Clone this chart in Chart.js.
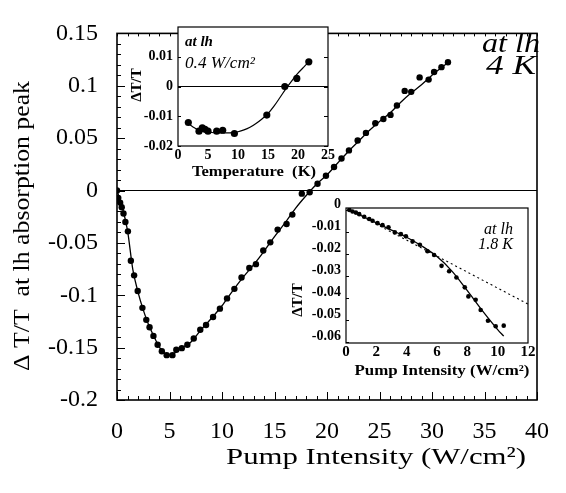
<!DOCTYPE html>
<html><head><meta charset="utf-8">
<script src="https://cdn.jsdelivr.net/npm/chart.js@4.4.1/dist/chart.umd.min.js"></script>
<style>
html,body{margin:0;padding:0;background:#fff;}
#wrap{position:relative;width:566px;height:493px;}
#wrap canvas{position:absolute;left:0;top:0;}
</style></head><body>
<div id="wrap">
<canvas id="mainChart" width="566" height="493"></canvas>
<canvas id="tempChart" width="566" height="493"></canvas>
<canvas id="pumpChart" width="566" height="493"></canvas>
</div>
<script>
// ---------- Main panel: ΔT/T vs pump intensity at 4 K ----------
const mainX = [0, 0.12, 0.3, 0.45, 0.62, 0.8, 1.04, 1.32, 1.63, 1.97, 2.42, 2.79, 3.1, 3.47, 3.87, 4.27, 4.73, 5.28, 5.65, 6.17, 6.7, 7.31, 7.93, 8.48, 9.15, 9.8, 10.48, 11.18, 11.86, 12.6, 13.23, 13.93, 14.6, 15.3, 16.15, 16.7, 17.6, 18.35, 19.1, 19.9, 20.67, 21.38, 22.09, 22.92, 23.71, 24.6, 25.37, 26.05, 26.66, 27.4, 28.02, 28.82, 29.68, 30.2, 30.9, 31.52];
const mainY = [0, -0.007, -0.0116, -0.016, -0.022, -0.030, -0.039, -0.067, -0.081, -0.096, -0.112, -0.1235, -0.1306, -0.1388, -0.1473, -0.1535, -0.1572, -0.1572, -0.152, -0.1505, -0.1473, -0.1413, -0.133, -0.1284, -0.1208, -0.1128, -0.103, -0.0939, -0.0831, -0.074, -0.0703, -0.0572, -0.0495, -0.0373, -0.032, -0.023, -0.003, -0.0017, 0.0064, 0.0141, 0.0224, 0.0306, 0.0383, 0.0477, 0.055, 0.0642, 0.0683, 0.0722, 0.0811, 0.0951, 0.0942, 0.108, 0.1059, 0.1132, 0.1178, 0.1224];
const mainFitX = [0, 0.5, 1, 1.5, 2, 2.5, 3, 3.5, 4, 4.5, 5, 5.5, 6, 7, 8, 9, 10, 11, 12, 13, 14, 15, 16, 17, 18, 19, 20, 21, 22, 23, 24, 25, 26, 27, 28, 29, 30, 31.5];
const mainFitY = [0, -0.016, -0.038, -0.075, -0.097, -0.114, -0.128, -0.139, -0.149, -0.155, -0.157, -0.155, -0.151, -0.145, -0.133, -0.122, -0.110, -0.096, -0.083, -0.071, -0.058, -0.044, -0.031, -0.017, -0.005, 0.006, 0.015, 0.026, 0.037, 0.047, 0.057, 0.066, 0.074, 0.084, 0.093, 0.101, 0.110, 0.122];
const mainXTicks = [0, 5, 10, 15, 20, 25, 30, 35, 40];
const mainXLabels = ["0", "5", "10", "15", "20", "25", "30", "35", "40"];
const mainYTicks = [-0.2, -0.15, -0.1, -0.05, 0, 0.05, 0.1, 0.15];
const mainYLabels = ["-0.2", "-0.15", "-0.1", "-0.05", "0", "0.05", "0.1", "0.15"];

// ---------- Upper inset: ΔT/T vs temperature at 0.4 W/cm² ----------
const tempX = [1.72, 3.5, 4.05, 4.5, 5.0, 6.45, 7.45, 9.4, 14.8, 17.8, 19.8, 21.8];
const tempY = [-0.0121, -0.0150, -0.0139, -0.0144, -0.0150, -0.0150, -0.0147, -0.0158, -0.0096, 0.0, 0.0027, 0.0083];
const tempFitX = [1.5, 2.5, 3.5, 5, 7, 9, 10, 11, 12, 13, 14, 15, 16, 17, 18, 19, 20, 21, 21.8];
const tempFitY = [-0.0121, -0.0136, -0.0146, -0.0153, -0.0156, -0.0155, -0.0152, -0.0146, -0.0137, -0.0124, -0.0109, -0.0091, -0.0066, -0.0037, -0.0007, 0.0020, 0.0045, 0.0066, 0.0082];
const tempXTicks = [0, 5, 10, 15, 20, 25];
const tempXLabels = ["0", "5", "10", "15", "20", "25"];
const tempYTicks = [-0.02, -0.01, 0, 0.01];
const tempYLabels = ["-0.02", "-0.01", "0", "0.01"];

// ---------- Lower inset: ΔT/T vs pump intensity at 1.8 K ----------
const pumpX = [0.22, 0.43, 0.65, 0.87, 1.2, 1.53, 1.75, 2.08, 2.41, 2.8, 3.22, 3.62, 3.95, 4.39, 4.87, 5.37, 5.81, 6.3, 6.8, 7.28, 7.83, 8.07, 8.55, 8.88, 9.36, 9.87, 10.4];
const pumpY = [-0.0001, -0.0008, -0.0013, -0.0020, -0.0032, -0.0042, -0.0050, -0.0061, -0.0070, -0.0080, -0.0103, -0.0111, -0.0121, -0.0144, -0.0159, -0.0189, -0.0206, -0.0255, -0.0280, -0.0308, -0.0353, -0.0394, -0.0409, -0.0456, -0.0505, -0.0530, -0.0527];
const pumpFitX = [0.2, 1, 2, 3, 4, 5, 6, 7, 8, 9, 10, 10.4];
const pumpFitY = [0, -0.0027, -0.0060, -0.0093, -0.0125, -0.0165, -0.0213, -0.0280, -0.0368, -0.0460, -0.0545, -0.0575];
const pumpLinX = [0.2, 12];
const pumpLinY = [0, -0.0429];
const pumpXTicks = [0, 2, 4, 6, 8, 10, 12];
const pumpXLabels = ["0", "2", "4", "6", "8", "10", "12"];
const pumpYTicks = [-0.06, -0.05, -0.04, -0.03, -0.02, -0.01, 0];
const pumpYLabels = ["-0.06", "-0.05", "-0.04", "-0.03", "-0.02", "-0.01", "0"];

// ---------- helpers ----------
const SERIF = '"Liberation Serif", "Times New Roman", serif';
const pts = (xs, ys) => xs.map((x, i) => ({x: x, y: ys[i]}));

function makeScale(o) {
  return {
    type: 'linear', min: o.min, max: o.max,
    grid: {display: false, drawTicks: false},
    border: {display: false},
    afterBuildTicks: s => { s.ticks = o.ticks.map(v => ({value: v})); },
    afterFit: s => { if (o.isY) s.width = o.size; else s.height = o.size; },
    ticks: {
      autoSkip: false, maxRotation: 0, minRotation: 0,
      color: '#000', padding: o.pad, labelOffset: o.labelOffset || 0,
      font: {family: SERIF, size: o.font, weight: o.weight || 'normal'},
      callback: (v, i) => o.labels[i]
    }
  };
}

function drawText(ctx, t) {
  ctx.save();
  ctx.font = t.font;
  ctx.fillStyle = '#000';
  ctx.textAlign = t.align || 'center';
  ctx.textBaseline = 'middle';
  ctx.translate(t.x, t.y);
  if (t.rot) ctx.rotate(t.rot);
  let sx = 1;
  if (t.width) sx = t.width / ctx.measureText(t.text).width;
  ctx.scale(sx, 1);
  ctx.fillText(t.text, 0, 0);
  ctx.restore();
}

function framePlugin(cfg) {
  return {
    id: 'frame',
    beforeDraw(chart) {
      if (!cfg.fill) return;
      const a = chart.chartArea, ctx = chart.ctx;
      ctx.save(); ctx.fillStyle = '#fff';
      ctx.fillRect(a.left, a.top, a.right - a.left, a.bottom - a.top);
      ctx.restore();
    },
    afterDraw(chart) {
      const a = chart.chartArea, ctx = chart.ctx, sc = chart.scales;
      ctx.save();
      ctx.strokeStyle = '#000';
      ctx.lineWidth = 1;
      ctx.beginPath();
      (cfg.ticks || []).forEach(t => {
        const s = sc[t.axis];
        t.values.forEach(v => {
          const p = Math.round(s.getPixelForValue(v)) + 0.5;
          if (t.side === 'bottom') { ctx.moveTo(p, a.bottom); ctx.lineTo(p, a.bottom - t.len); }
          if (t.side === 'top') { ctx.moveTo(p, a.top); ctx.lineTo(p, a.top + t.len); }
          if (t.side === 'left') { ctx.moveTo(a.left, p); ctx.lineTo(a.left + t.len, p); }
          if (t.side === 'right') { ctx.moveTo(a.right, p); ctx.lineTo(a.right - t.len, p); }
        });
      });
      ctx.stroke();
      ctx.lineWidth = cfg.boxWidth;
      ctx.strokeRect(a.left, a.top, a.right - a.left, a.bottom - a.top);
      ctx.restore();
      (cfg.texts || []).forEach(t => drawText(ctx, t));
    }
  };
}

function range(a, b, step) { const r = []; for (let k = 0; a + k * step <= b + 1e-9; k++) r.push(+(a + k * step).toFixed(4)); return r; }

const common = {
  responsive: false, animation: false, devicePixelRatio: 1,
  plugins: {legend: {display: false}, tooltip: {enabled: false}}
};

// ---------- main chart ----------
new Chart(document.getElementById('mainChart'), {
  type: 'scatter',
  data: {datasets: [
    {data: pts([0, 40], [0, 0]), showLine: true, borderColor: '#000', borderWidth: 1.2, pointRadius: 0},
    {data: pts(mainFitX, mainFitY), showLine: true, borderColor: '#000', borderWidth: 1.3, pointRadius: 0, cubicInterpolationMode: 'monotone'},
    {data: pts(mainX, mainY), showLine: false, pointRadius: 3.2, pointBackgroundColor: '#000', pointBorderWidth: 0}
  ]},
  options: Object.assign({}, common, {
    layout: {padding: {left: 0, top: 20, right: 15, bottom: 0}},
    scales: {
      x: makeScale({min: 0, max: 40, ticks: mainXTicks, labels: mainXLabels, font: 24, pad: 17, size: 93}),
      y: makeScale({min: -0.2, max: 0.15, ticks: mainYTicks, labels: mainYLabels, font: 24, pad: 19, size: 117, isY: true})
    }
  }),
  plugins: [framePlugin({
    boxWidth: 1.6,
    ticks: [
      {axis: 'x', side: 'bottom', values: range(0, 40, 1), len: 4},
      {axis: 'x', side: 'bottom', values: mainXTicks, len: 8},
      {axis: 'x', side: 'top', values: range(0, 40, 1), len: 3},
      {axis: 'y', side: 'left', values: range(-0.2, 0.15, 0.01), len: 4},
      {axis: 'y', side: 'left', values: mainYTicks, len: 8}
    ],
    texts: [
      {text: 'Δ T/T  at lh absorption peak', x: 23, y: 226, rot: -Math.PI / 2, font: '24px ' + SERIF, width: 290},
      {text: 'Pump Intensity (W/cm²)', x: 376, y: 458, font: '24px ' + SERIF, width: 300},
      {text: 'at lh', x: 540, y: 45, align: 'right', font: 'italic 28px ' + SERIF, width: 58},
      {text: '4 K', x: 536, y: 67, align: 'right', font: 'italic 28px ' + SERIF, width: 50}
    ]
  })]
});

// ---------- temperature inset ----------
new Chart(document.getElementById('tempChart'), {
  type: 'scatter',
  data: {datasets: [
    {data: pts([0, 25], [0, 0]), showLine: true, borderColor: '#000', borderWidth: 1, pointRadius: 0},
    {data: pts(tempFitX, tempFitY), showLine: true, borderColor: '#000', borderWidth: 1.2, pointRadius: 0, cubicInterpolationMode: 'monotone'},
    {data: pts(tempX, tempY), showLine: false, pointRadius: 3.6, pointBackgroundColor: '#000', pointBorderWidth: 0}
  ]},
  options: Object.assign({}, common, {
    layout: {padding: {left: 0, top: 27, right: 238, bottom: 0}},
    scales: {
      x: makeScale({min: 0, max: 25, ticks: tempXTicks, labels: tempXLabels, font: 14, weight: 'bold', pad: 1, size: 347}),
      y: makeScale({min: -0.02, max: 0.02, ticks: tempYTicks, labels: tempYLabels, font: 14, weight: 'bold', pad: 5, size: 178, isY: true})
    }
  }),
  plugins: [framePlugin({
    fill: true, boxWidth: 1.2,
    ticks: [
      {axis: 'y', side: 'right', values: tempYTicks, len: 4},
      {axis: 'y', side: 'left', values: tempYTicks, len: 3}
    ],
    texts: [
      {text: 'ΔT/T', x: 137, y: 85, rot: -Math.PI / 2, font: 'bold 15px ' + SERIF},
      {text: 'Temperature  (K)', x: 254, y: 172, font: 'bold 15px ' + SERIF, width: 124},
      {text: 'at lh', x: 185, y: 42, align: 'left', font: 'bold italic 15px ' + SERIF},
      {text: '0.4 W/cm²', x: 185, y: 64, align: 'left', font: 'italic 16px ' + SERIF, width: 70}
    ]
  })]
});

// ---------- 1.8 K pump inset ----------
new Chart(document.getElementById('pumpChart'), {
  type: 'scatter',
  data: {datasets: [
    {data: pts(pumpLinX, pumpLinY), showLine: true, borderColor: '#000', borderWidth: 1.1, borderDash: [2, 3], pointRadius: 0},
    {data: pts(pumpFitX, pumpFitY), showLine: true, borderColor: '#000', borderWidth: 1.3, pointRadius: 0, cubicInterpolationMode: 'monotone'},
    {data: pts(pumpX, pumpY), showLine: false, pointRadius: 2.3, pointBackgroundColor: '#000', pointBorderWidth: 0}
  ]},
  options: Object.assign({}, common, {
    layout: {padding: {left: 0, top: 208, right: 38, bottom: 0}},
    scales: {
      x: makeScale({min: 0, max: 12, ticks: pumpXTicks, labels: pumpXLabels, font: 15, weight: 'bold', pad: 0, size: 150}),
      y: makeScale({min: -0.0606, max: 0.0008, ticks: pumpYTicks, labels: pumpYLabels, font: 14, weight: 'bold', pad: 5, size: 346, isY: true, labelOffset: -5})
    }
  }),
  plugins: [framePlugin({
    fill: true, boxWidth: 1.2,
    ticks: [
      {axis: 'y', side: 'left', values: pumpYTicks, len: 3}
    ],
    texts: [
      {text: 'ΔT/T', x: 298, y: 300, rot: -Math.PI / 2, font: 'bold 15px ' + SERIF},
      {text: 'Pump Intensity (W/cm²)', x: 442, y: 371, font: 'bold 15px ' + SERIF, width: 175},
      {text: 'at lh', x: 513, y: 230, align: 'right', font: 'italic 16px ' + SERIF},
      {text: '1.8 K', x: 513, y: 245, align: 'right', font: 'italic 16px ' + SERIF}
    ]
  })]
});
</script>
</body></html>
